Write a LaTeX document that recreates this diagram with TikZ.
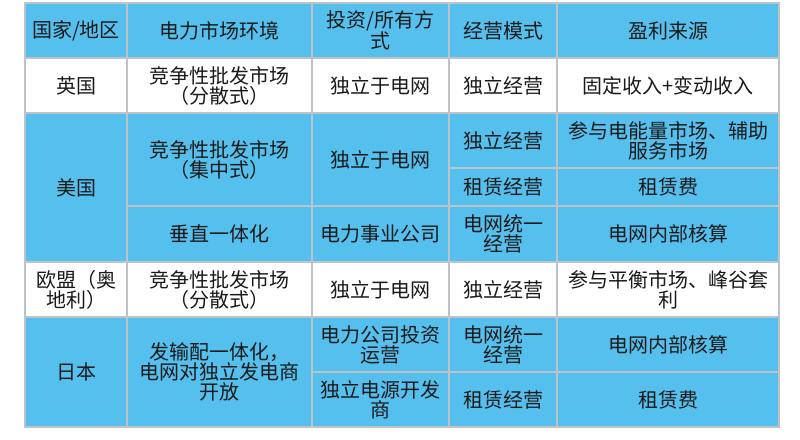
\documentclass[tikz,border=0pt]{standalone}
\usepackage{fontspec}
\setmainfont{Noto Sans CJK SC}
\definecolor{cellblue}{HTML}{55C0EE}
\definecolor{gridgray}{HTML}{BEC3C7}
\definecolor{inkdark}{HTML}{1A1A1A}
\begin{document}
\begin{tikzpicture}[x=1bp, y=-1bp,
    cell/.style={draw=gridgray, line width=1.5bp, fill=cellblue, text=inkdark, align=center, inner sep=0pt,
      font=\fontsize{20bp}{20bp}\selectfont},
    plaincell/.style={cell, fill=white},
    size/.style 2 args={minimum width=#1bp, minimum height=#2bp}]
    \useasboundingbox (0,0) rectangle (800,440);

    % Header row
    \node[cell, size={102}{55}] (hcountry) at (76,30.5) {国家/地区};
    \node[cell, size={185}{55}] (hmarket) at (219.5,30.5) {电力市场环境};
    \node[cell, size={137}{55}] (hinvest) at (380.5,30.5) {投资/所有方\\式};
    \node[cell, size={108}{55}] (hmode) at (503,30.5) {经营模式};
    \node[cell, size={222}{55}] (hprofit) at (668,30.5) {盈利来源};

    % UK
    \node[plaincell, size={102}{55}] (uk) at (76,85.5) {英国};
    \node[plaincell, size={185}{55}] (ukmarket) at (219.5,85.5) {竞争性批发市场\\（分散式）};
    \node[plaincell, size={137}{55}] (ukinvest) at (380.5,85.5) {独立于电网};
    \node[plaincell, size={108}{55}] (ukmode) at (503,85.5) {独立经营};
    \node[plaincell, size={222}{55}] (ukprofit) at (668,85.5) {固定收入+变动收入};

    % USA
    \node[cell, size={102}{149}] (us) at (76,187.5) {美国};
    \node[cell, size={185}{93}] (usmarket) at (219.5,159.5) {竞争性批发市场\\（集中式）};
    \node[cell, size={137}{93}] (usinvest) at (380.5,159.5) {独立于电网};
    \node[cell, size={108}{55}] (usmodea) at (503,140.5) {独立经营};
    \node[cell, size={222}{55}] (usprofita) at (668,140.5) {参与电能量市场、辅助\\服务市场};
    \node[cell, size={108}{38}] (usmodeb) at (503,187) {租赁经营};
    \node[cell, size={222}{38}] (usprofitb) at (668,187) {租赁费};
    \node[cell, size={185}{56}] (usmarketc) at (219.5,234) {垂直一体化};
    \node[cell, size={137}{56}] (usinvestc) at (380.5,234) {电力事业公司};
    \node[cell, size={108}{56}] (usmodec) at (503,234) {电网统一\\经营};
    \node[cell, size={222}{56}] (usprofitc) at (668,234) {电网内部核算};

    % EU (Austria)
    \node[plaincell, size={102}{55}] (eu) at (76,289.5) {欧盟（奥\\地利）};
    \node[plaincell, size={185}{55}] (eumarket) at (219.5,289.5) {竞争性批发市场\\（分散式）};
    \node[plaincell, size={137}{55}] (euinvest) at (380.5,289.5) {独立于电网};
    \node[plaincell, size={108}{55}] (eumode) at (503,289.5) {独立经营};
    \node[plaincell, size={222}{55}] (euprofit) at (668,289.5) {参与平衡市场、峰谷套\\利};

    % Japan
    \node[cell, size={102}{110}] (jp) at (76,372) {日本};
    \node[cell, size={185}{110}] (jpmarket) at (219.5,372) {发输配一体化，\\电网对独立发电商\\开放};
    \node[cell, size={137}{55}] (jpinvesta) at (380.5,344.5) {电力公司投资\\运营};
    \node[cell, size={108}{55}] (jpmodea) at (503,344.5) {电网统一\\经营};
    \node[cell, size={222}{55}] (jpprofita) at (668,344.5) {电网内部核算};
    \node[cell, size={137}{55}] (jpinvestb) at (380.5,399.5) {独立电源开发\\商};
    \node[cell, size={108}{55}] (jpmodeb) at (503,399.5) {租赁经营};
    \node[cell, size={222}{55}] (jpprofitb) at (668,399.5) {租赁费};
\end{tikzpicture}
\end{document}
